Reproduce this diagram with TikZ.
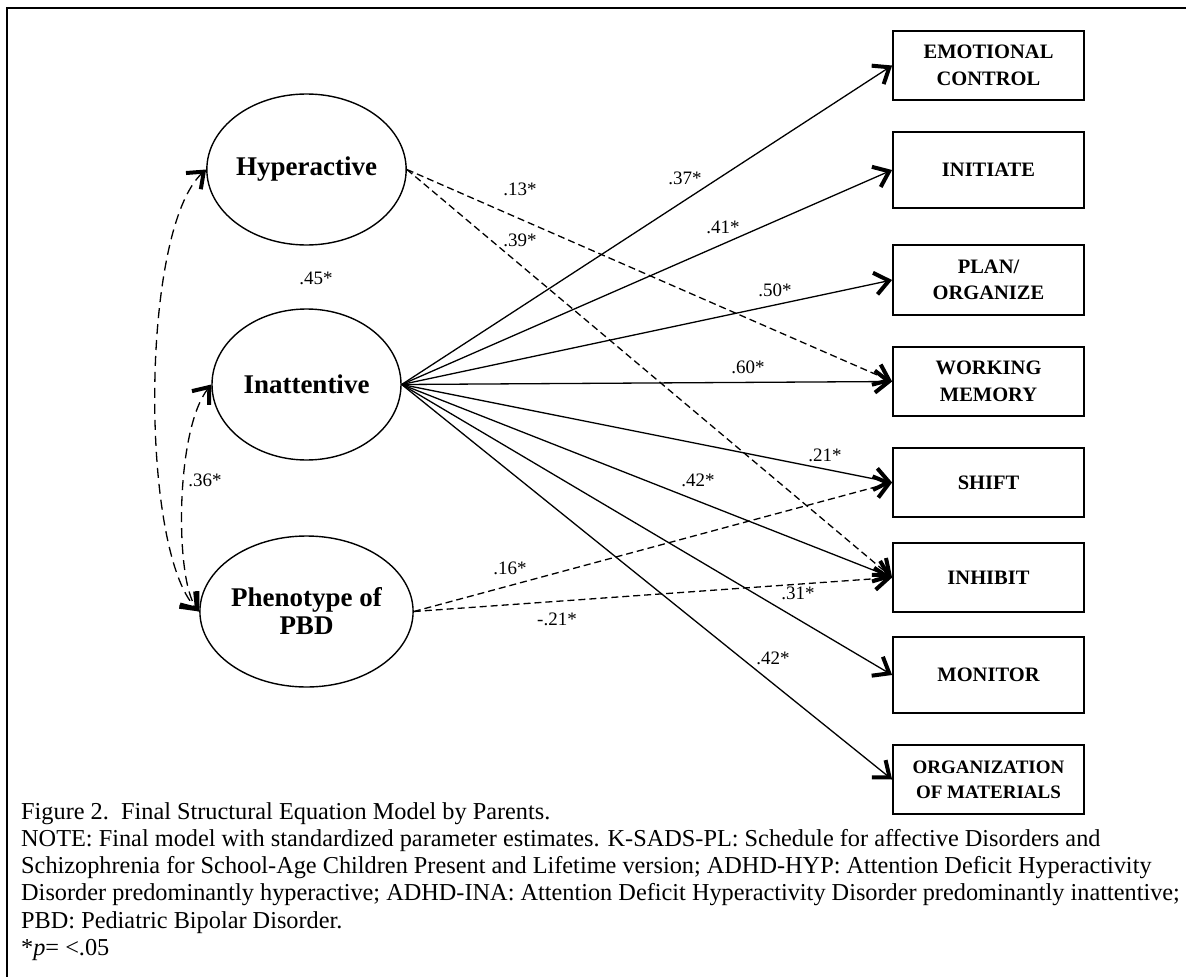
\documentclass[tikz,border=0pt]{standalone}
\usepackage{fontspec}
\setmainfont{Liberation Serif}
\usetikzlibrary{arrows.meta,shapes.geometric}

\begin{document}
\begin{tikzpicture}[x=1pt,y=-1pt,
  latent/.style={ellipse,draw,line width=1.4pt,minimum width=189pt,minimum height=151pt,
    inner sep=0pt,align=center,font=\fontsize{27}{28}\selectfont\bfseries},
  measure/.style={rectangle,draw,line width=1.8pt,minimum width=191pt,
    inner sep=0pt,align=center,font=\fontsize{20.5}{26.5}\selectfont\bfseries},
  barb/.tip={Straight Barb[length=14pt,width=22pt,line width=4pt]},
  loading/.style={line width=1.3pt,-barb},
  crossload/.style={line width=1.3pt,-barb,dash pattern=on 7pt off 4pt},
  covar/.style={line width=1.3pt,dash pattern=on 10pt off 6pt,barb-barb},
  est/.style={font=\fontsize{19}{20}\selectfont,inner sep=0pt},
  captxt/.style={anchor=base west,inner sep=0pt,font=\fontsize{24.3}{27}\selectfont}
]
\useasboundingbox (0,0) rectangle (1186,977);

% frame
\draw[line width=1.5pt] (7,977) -- (7,8) -- (1186,8);

% latent factors
\node[latent] (hyp)  at (306.5,169.5) {Hyperactive};
\node[latent] (inat) at (306.5,384.5) {Inattentive};
\node[latent] (pbd)  at (306.5,611.5) {Phenotype of\\PBD};

% executive function scales
\node[measure,minimum height=69pt] (emo)  at (988.5,65.5)  {EMOTIONAL\\CONTROL};
\node[measure,minimum height=76pt] (ini)  at (988.5,170)   {INITIATE};
\node[measure,minimum height=70pt] (plan) at (988.5,280)   {PLAN/\\ORGANIZE};
\node[measure,minimum height=69pt] (wm)   at (988.5,381.5) {WORKING\\MEMORY};
\node[measure,minimum height=69pt] (shf)  at (988.5,482.5) {SHIFT};
\node[measure,minimum height=69pt] (inh)  at (988.5,577.5) {INHIBIT};
\node[measure,minimum height=76pt] (mon)  at (988.5,675)   {MONITOR};
\node[measure,minimum height=69pt,font=\fontsize{19}{25}\selectfont\bfseries] (org) at (988.5,779.5) {ORGANIZATION\\OF MATERIALS};

% inattentive paths
\draw[loading] (inat.east) -- (emo.west);
\draw[loading] (inat.east) -- (ini.west);
\draw[loading] (inat.east) -- (plan.west);
\draw[loading] (inat.east) -- (wm.west);
\draw[loading] (inat.east) -- (shf.west);
\draw[loading] (inat.east) -- (inh.west);
\draw[loading] (inat.east) -- (mon.west);
\draw[loading] (inat.east) -- (org.west);

% hyperactive and PBD paths
\draw[crossload] (hyp.east) -- (wm.west);
\draw[crossload] (hyp.east) -- (inh.west);
\draw[crossload] (pbd.east) -- (shf.west);
\draw[crossload] (pbd.east) -- (inh.west);

% factor covariances
\draw[covar] (hyp.west) .. controls (140,230) and (140,550) .. (pbd.west);
\draw[covar] (inat.west) .. controls (175,430) and (175,580) .. (pbd.west);

% estimates
\node[est] (e37) at (685,178) {.37*};
\node[est] (e13) at (520,189) {.13*};
\node[est] (e39) at (520,240) {.39*};
\node[est] (e41) at (723,227) {.41*};
\node[est] (e50) at (775,290) {.50*};
\node[est] (e60) at (748,367) {.60*};
\node[est] (e21) at (825,455) {.21*};
\node[est] (e42a) at (698,480) {.42*};
\node[est] (e45) at (316,278) {.45*};
\node[est] (e36) at (205,480) {.36*};
\node[est] (e16) at (510,568) {.16*};
\node[est] (em21) at (557,619) {-.21*};
\node[est] (e31) at (798,593) {.31*};
\node[est] (e42b) at (773,658) {.42*};

% caption
\node[captxt] (cap1) at (21,819) {Figure 2.\ \ Final Structural Equation Model by Parents.};
\node[captxt] (cap2) at (21,846.3) {NOTE: Final model with standardized parameter estimates. K-SADS-PL: Schedule for affective Disorders and};
\node[captxt] (cap3) at (21,873.6) {Schizophrenia for School-Age Children Present and Lifetime version; ADHD-HYP: Attention Deficit Hyperactivity};
\node[captxt] (cap4) at (21,900.9) {Disorder predominantly hyperactive; ADHD-INA: Attention Deficit Hyperactivity Disorder predominantly inattentive;};
\node[captxt] (cap5) at (21,928.2) {PBD: Pediatric Bipolar Disorder.};
\node[captxt] (cap6) at (21,955.5) {*\textit{p}= <.05};
\end{tikzpicture}
\end{document}
